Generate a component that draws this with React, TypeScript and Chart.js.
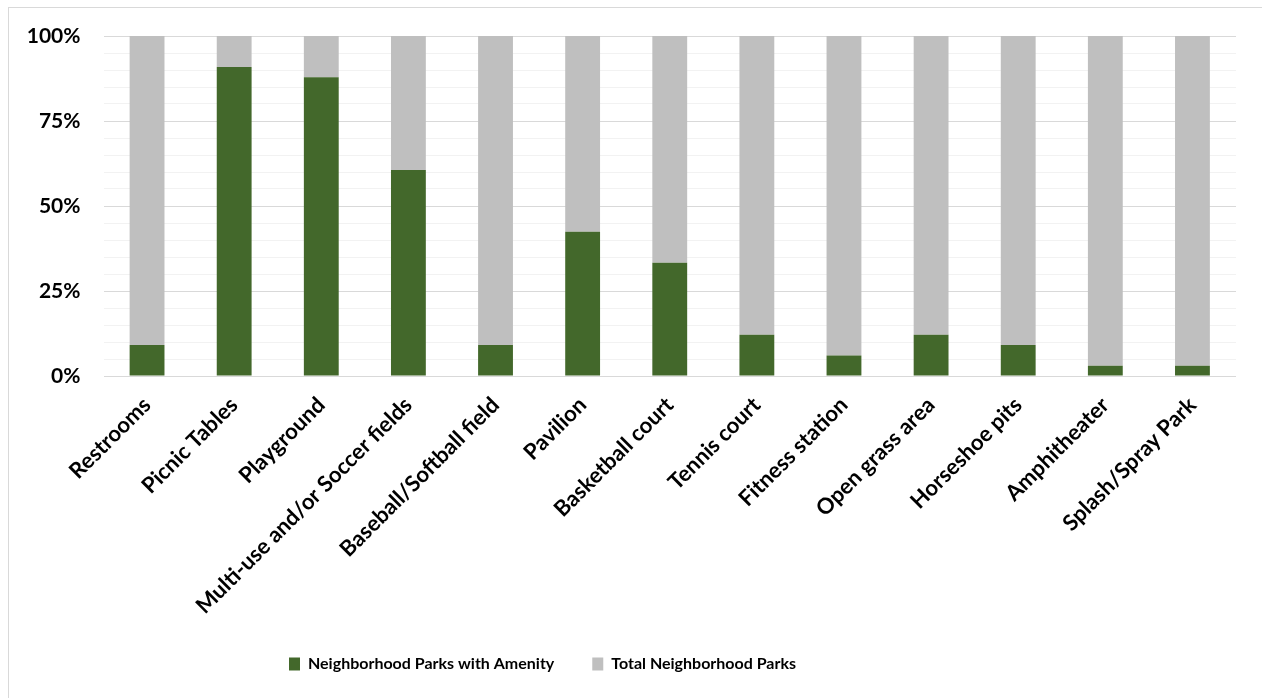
import { useEffect, useRef } from "react";
import { Chart, registerables } from "chart.js";

Chart.register(...registerables);

const categories = [
  "Restrooms",
  "Picnic Tables",
  "Playground",
  "Multi-use and/or Soccer fields",
  "Baseball/Softball field",
  "Pavilion",
  "Basketball court",
  "Tennis court",
  "Fitness station",
  "Open grass area",
  "Horseshoe pits",
  "Amphitheater",
  "Splash/Spray Park",
];

// number of neighborhood parks that have each amenity (out of 33)
const parksWithAmenity = [3, 30, 29, 20, 3, 14, 11, 4, 2, 4, 3, 1, 1];
const totalNeighborhoodParks = 33;

const seriesLabels = ["Neighborhood Parks with Amenity", "Total Neighborhood Parks"];
const majorTicks = [0, 25, 50, 75, 100];

const GREEN = "#43682B";
const GREY = "#BFBFBF";
const FONT = "Lato, 'Open Sans', sans-serif";

export default function App() {
  const canvasRef = useRef<HTMLCanvasElement | null>(null);

  useEffect(() => {
    const canvas = canvasRef.current;
    if (!canvas) return;

    const withPct = parksWithAmenity.map((v) => (v / totalNeighborhoodParks) * 100);
    const restPct = withPct.map((v) => 100 - v);

    const legendShift = {
      id: "legendShift",
      afterLayout(chart: any) {
        if (chart.legend) chart.legend.right -= 151;
      },
    };

    const chart = new Chart(canvas, {
      type: "bar",
      data: {
        labels: categories,
        datasets: [
          {
            label: seriesLabels[0],
            data: withPct,
            backgroundColor: GREEN,
            barPercentage: 0.4,
            categoryPercentage: 1,
          },
          {
            label: seriesLabels[1],
            data: restPct,
            backgroundColor: GREY,
            barPercentage: 0.4,
            categoryPercentage: 1,
          },
        ],
      },
      options: {
        responsive: false,
        animation: false,
        devicePixelRatio: 1,
        layout: { padding: { top: 36, right: 26, bottom: 16, left: 0 } },
        plugins: {
          tooltip: { enabled: false },
          legend: {
            position: "bottom",
            labels: {
              boxWidth: 11,
              boxHeight: 13,
              padding: 38,
              color: "#000",
              font: { family: FONT, size: 16, weight: "bold" },
            },
          },
        },
        scales: {
          x: {
            stacked: true,
            grid: { display: false },
            border: { display: false },
            ticks: {
              autoSkip: false,
              maxRotation: 45,
              minRotation: 45,
              color: "#000",
              padding: 8,
              font: { family: FONT, size: 22, weight: "bold" },
            },
            afterFit: (s: any) => {
              s.height = 242;
            },
          },
          y: {
            stacked: true,
            min: 0,
            max: 100,
            border: { display: false },
            grid: {
              drawTicks: false,
              color: (ctx: any) =>
                majorTicks.includes(ctx.tick?.value) ? "#D9D9D9" : "#F2F2F2",
            },
            ticks: {
              stepSize: 5,
              autoSkip: false,
              padding: 23,
              color: "#000",
              font: { family: FONT, size: 21, weight: "bold" },
              callback: (v: any) => (majorTicks.includes(Number(v)) ? v + "%" : ""),
            },
            afterFit: (s: any) => {
              s.width = 103.5;
            },
          },
        },
      },
      plugins: [legendShift],
    });

    return () => chart.destroy();
  }, []);

  return (
    <div
      style={{
        position: "fixed",
        left: 0,
        top: 0,
        width: 1262,
        height: 698,
        overflow: "hidden",
        background: "#fff",
      }}
    >
      <div
        style={{
          position: "absolute",
          left: 8,
          top: 7,
          width: 1270,
          height: 710,
          border: "1px solid #D9D9D9",
          boxSizing: "border-box",
        }}
      />
      <canvas
        ref={canvasRef}
        width={1262}
        height={698}
        style={{ position: "absolute", left: 0, top: 0, width: 1262, height: 698 }}
      />
    </div>
  );
}
